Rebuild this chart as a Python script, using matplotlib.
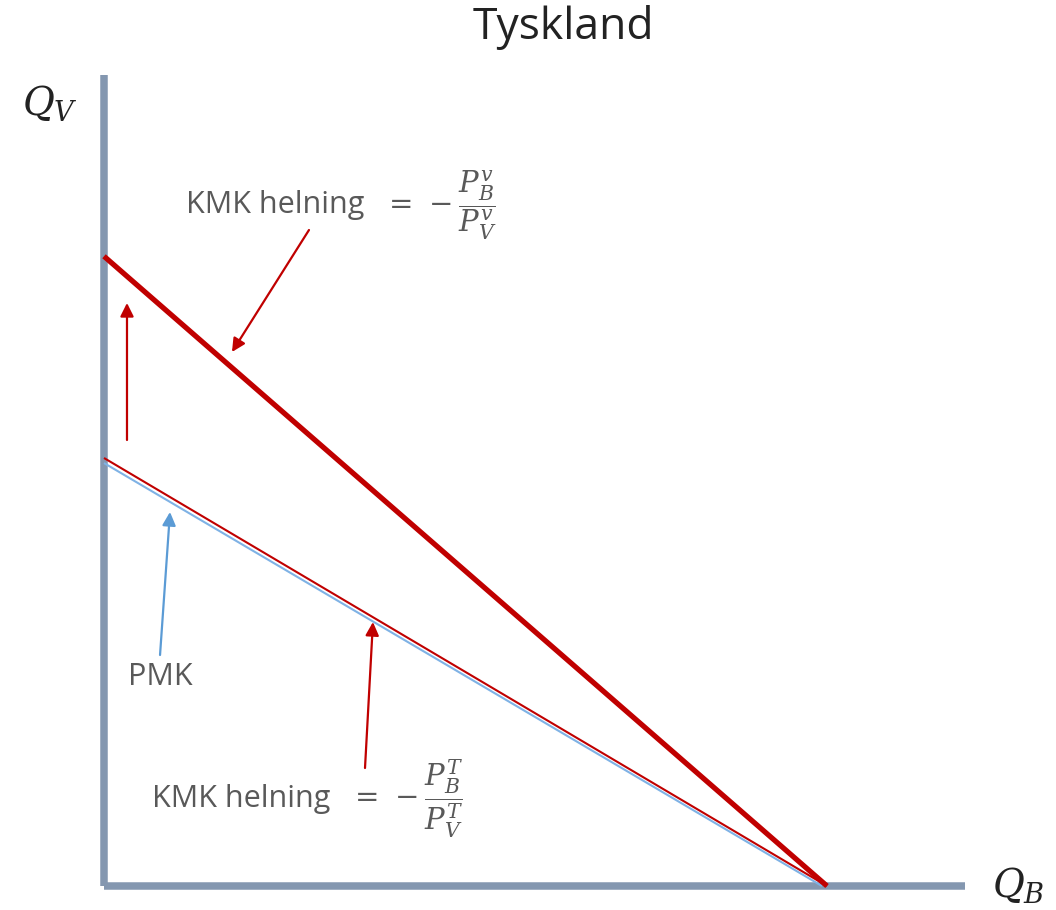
import matplotlib
matplotlib.use("Agg")
import matplotlib.pyplot as plt

plt.rcParams['font.family'] = ['Open Sans', 'DejaVu Sans']
plt.rcParams['mathtext.fontset'] = 'dejavuserif'

# ---- data (in economic units; x-intercept of production frontier = 10) ----
line_names = ["KMK v", "KMK T", "PMK"]
y_intercepts = [8.71, 5.92, 5.85]
x_intercepts = [10.0, 10.0, 9.93]
line_colors = ["#C00000", "#C00000", "#7FB2E5"]
line_widths = [3.8, 1.5, 1.5]
draw_order = [2, 1, 0]

axis_x_max = 11.91
axis_y_max = 11.22

# arrows: (tail, tip, colour)
arrow_tails = [(2.835, 9.073), (0.318, 6.169), (0.775, 3.195), (3.61, 1.632)]
arrow_tips = [(1.770, 7.386), (0.318, 8.064), (0.913, 5.173), (3.72, 3.651)]
arrow_colors = ["#C00000", "#C00000", "#5B9BD5", "#C00000"]

W, H = 1056, 910
fig = plt.figure(figsize=(W / 100, H / 100), dpi=100)
ox, oy = 104, 886
scale = 72.3
ax = fig.add_axes([ox / W, (H - oy) / H, (W - ox) / W, oy / H])
ax.set_xlim(0, (W - ox) / scale)
ax.set_ylim(0, oy / scale)
ax.set_xticks([])
ax.set_yticks([])
ax.patch.set_alpha(0)
for s in ["top", "right"]:
    ax.spines[s].set_visible(False)
axis_col = "#8497B0"
ax.spines["left"].set_bounds(0, axis_y_max)
ax.spines["bottom"].set_bounds(0, axis_x_max)
for s in ["left", "bottom"]:
    ax.spines[s].set_linewidth(5.4)
    ax.spines[s].set_color(axis_col)
    ax.spines[s].set_capstyle("butt")
    ax.spines[s].set_zorder(1)

for i in draw_order:
    ax.plot([0, x_intercepts[i]], [y_intercepts[i], 0], color=line_colors[i],
            lw=line_widths[i], solid_capstyle="butt", zorder=3, clip_on=False)

for tail, tip, col in zip(arrow_tails, arrow_tips, arrow_colors):
    ax.annotate("", xy=tip, xytext=tail,
                arrowprops=dict(arrowstyle="-|>", color=col, lw=1.6,
                                mutation_scale=20, shrinkA=0, shrinkB=0),
                zorder=4)

gray = "#595959"
def px(x, y):
    return x / W, 1 - y / H

fig.text(*px(563, 28), "Tyskland", ha="center", va="center", fontsize=32, color="#222222")
fig.text(*px(186, 213), "KMK helning", ha="left", va="baseline", fontsize=22, color=gray)
fig.text(*px(383, 205), r"$=\,-\dfrac{P_B^v}{P_V^v}$", ha="left", va="center",
         fontsize=21, color=gray)
fig.text(*px(152, 807), "KMK helning", ha="left", va="baseline", fontsize=22, color=gray)
fig.text(*px(349, 799), r"$=\,-\dfrac{P_B^T}{P_V^T}$", ha="left", va="center",
         fontsize=21, color=gray)
fig.text(*px(128, 685), "PMK", ha="left", va="baseline", fontsize=22, color=gray)
fig.text(*px(22, 115), r"$Q_V$", ha="left", va="baseline", fontsize=28, color="#222222")
fig.text(*px(992, 897), r"$Q_B$", ha="left", va="baseline", fontsize=28, color="#222222")

fig.savefig("out.png", dpi=100)
